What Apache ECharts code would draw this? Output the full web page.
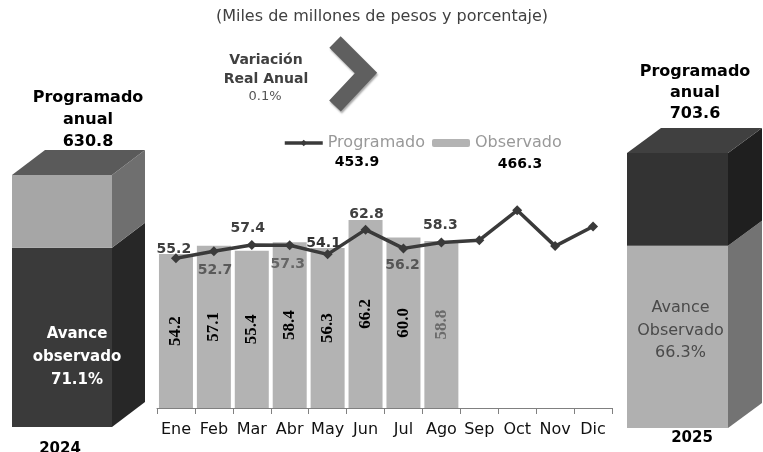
<!DOCTYPE html>
<html>
<head>
<meta charset="utf-8">
<script src="https://cdn.jsdelivr.net/npm/echarts@6/dist/echarts.min.js"></script>
<style>
  html, body { margin: 0; padding: 0; background: #fff; }
  #chart { width: 763px; height: 452px; }
</style>
</head>
<body>
<div id="chart"></div>
<script>
// datos mensuales (miles de millones de pesos)
const meses = ["Ene", "Feb", "Mar", "Abr", "May", "Jun", "Jul", "Ago", "Sep", "Oct", "Nov", "Dic"];
const programado = [52.7, 55.2, 57.4, 57.3, 54.1, 62.8, 56.2, 58.3, 59.1, 69.6, 57.0, 63.9];
const observado = [54.2, 57.1, 55.4, 58.4, 56.3, 66.2, 60.0, 58.8];
const acumProgramado = 453.9;
const acumObservado = 466.3;

// cajas anuales
const anual2024 = 630.8;
const avance2024 = 71.1;
const anual2025 = 703.6;
const avance2025 = 66.3;
const variacionReal = 0.1;

const FONT = "DejaVu Sans";

// offsets / colores de las etiquetas de la linea (solo los meses con dato)
const lineLabelLayout = [
  { offset: [39, 12], color: "#5a5a5a" },
  { offset: [-40, -2], color: "#404040" },
  { offset: [-4, -17], color: "#404040" },
  { offset: [-2, 19], color: "#666666" },
  { offset: [-4, -11], color: "#333333" },
  { offset: [1, -15], color: "#404040" },
  { offset: [-1, 17], color: "#555555" },
  { offset: [-1, -17], color: "#404040" },
];

function boxRenderer(opts) {
  return function (params, api) {
    const x = api.value(0);
    const p0 = api.coord([x, api.value(1)]);
    const p1 = api.coord([x, api.value(2)]);
    const w = api.size([1, 0])[0];
    const left = p0[0] - w / 2;
    const right = p0[0] + w / 2;
    const seg = opts.segments[params.dataIndex];
    const dx = opts.dx, dy = opts.dy;
    const children = [
      {
        type: "rect",
        shape: { x: left, y: p1[1], width: w, height: p0[1] - p1[1] },
        style: { fill: seg.front },
      },
      {
        type: "polygon",
        shape: {
          points: [
            [right, p0[1]],
            [right, p1[1]],
            [right + dx, p1[1] + dy],
            [right + dx, p0[1] + dy],
          ],
        },
        style: { fill: seg.side },
      },
    ];
    if (params.dataIndex === opts.segments.length - 1) {
      children.push({
        type: "polygon",
        shape: {
          points: [
            [left, p1[1]],
            [right, p1[1]],
            [right + dx, p1[1] + dy],
            [left + dx, p1[1] + dy],
          ],
        },
        style: { fill: opts.topColor },
      });
    }
    if (params.dataIndex === 0) {
      children.push({
        type: "text",
        x: p0[0] + opts.textDx,
        y: (p0[1] + p1[1]) / 2 + opts.textDy,
        style: {
          text: opts.text,
          fill: opts.textColor,
          font: opts.textFont,
          align: "center",
          verticalAlign: "middle",
          lineHeight: opts.lineHeight,
        },
      });
    }
    return { type: "group", children: children };
  };
}

const chart = echarts.init(document.getElementById("chart"));

const option = {
  animation: false,
  textStyle: { fontFamily: FONT },
  legend: {
    left: 278,
    top: 130,
    itemWidth: 38,
    itemHeight: 8,
    itemGap: 7,
    selectedMode: false,
    lineStyle: { width: 3.5 },
    data: ["Programado", "Observado"],
    textStyle: { fontSize: 16, color: "#999999", fontFamily: FONT },
  },
  grid: [
    { left: 157, width: 455, top: 124, height: 284 },
    { left: 12, width: 100, top: 175, height: 252 },
    { left: 627, width: 101, top: 153, height: 275 },
  ],
  xAxis: [
    {
      type: "category",
      gridIndex: 0,
      data: meses,
      axisLine: { lineStyle: { color: "#808080", width: 1 } },
      axisTick: { show: true, length: 6, lineStyle: { color: "#808080" } },
      axisLabel: { interval: 0, margin: 14, fontSize: 16, color: "#111", fontFamily: FONT },
    },
    { type: "category", gridIndex: 1, data: ["2024"], show: false },
    { type: "category", gridIndex: 2, data: ["2025"], show: false },
  ],
  yAxis: [
    { type: "value", gridIndex: 0, min: 0, max: 100, show: false, splitLine: { show: false } },
    { type: "value", gridIndex: 1, min: 0, max: 100, show: false, splitLine: { show: false } },
    { type: "value", gridIndex: 2, min: 0, max: 100, show: false, splitLine: { show: false } },
  ],
  series: [
    {
      name: "Observado",
      type: "bar",
      xAxisIndex: 0,
      yAxisIndex: 0,
      barWidth: 34,
      itemStyle: { color: "#b3b3b3" },
      data: observado.map((v, i) => ({
        value: v,
        label: { color: i === observado.length - 1 ? "#6b6b6b" : "#000" },
      })),
      label: {
        show: true,
        position: "inside",
        rotate: 90,
        fontFamily: "Liberation Serif",
        fontWeight: "bold",
        fontSize: 17,
        formatter: (p) => p.value.toFixed(1),
      },
    },
    {
      name: "Programado",
      type: "line",
      xAxisIndex: 0,
      yAxisIndex: 0,
      symbol: "diamond",
      symbolSize: 10,
      lineStyle: { color: "#3a3a3a", width: 3.5 },
      itemStyle: { color: "#3a3a3a" },
      z: 5,
      data: programado.map((v, i) => {
        const lay = lineLabelLayout[i];
        if (!lay) return v;
        return {
          value: v,
          label: {
            show: true,
            position: "inside",
            offset: lay.offset,
            color: lay.color,
            fontFamily: FONT,
            fontWeight: "bold",
            fontSize: 14,
            formatter: (p) => p.value.toFixed(1),
          },
        };
      }),
    },
    {
      type: "custom",
      xAxisIndex: 1,
      yAxisIndex: 1,
      renderItem: boxRenderer({
        dx: 33,
        dy: -25,
        topColor: "#5a5a5a",
        segments: [
          { front: "#3a3a3a", side: "#272727" },
          { front: "#a6a6a6", side: "#6f6f6f" },
        ],
        text: "Avance\nobservado\n" + avance2024.toFixed(1) + "%",
        textColor: "#ffffff",
        textFont: "bold 15px " + FONT,
        lineHeight: 23,
        textDx: 15,
        textDy: 20,
      }),
      data: [
        [0, 0, avance2024],
        [0, avance2024, 100],
      ],
    },
    {
      type: "custom",
      xAxisIndex: 2,
      yAxisIndex: 2,
      renderItem: boxRenderer({
        dx: 34,
        dy: -25,
        topColor: "#404040",
        segments: [
          { front: "#b0b0b0", side: "#737373" },
          { front: "#333333", side: "#1f1f1f" },
        ],
        text: "Avance\nObservado\n" + avance2025.toFixed(1) + "%",
        textColor: "#4a4a4a",
        textFont: "16px " + FONT,
        lineHeight: 22.5,
        textDx: 3,
        textDy: -6,
      }),
      data: [
        [0, 0, avance2025],
        [0, avance2025, 100],
      ],
    },
  ],
  graphic: [
    {
      type: "text",
      x: 382,
      y: 17,
      style: {
        text: "(Miles de millones de pesos y porcentaje)",
        fill: "#404040",
        font: "16px " + FONT,
        align: "center",
        verticalAlign: "middle",
      },
    },
    {
      type: "polyline",
      shape: { points: [[335, 42], [366, 73], [335, 106]] },
      style: {
        stroke: "#5f5f5f",
        lineWidth: 16,
        lineJoin: "miter",
        fill: null,
        shadowBlur: 2,
        shadowColor: "rgba(0,0,0,0.35)",
        shadowOffsetX: 1,
        shadowOffsetY: 2,
      },
    },
    {
      type: "text",
      x: 266,
      y: 70,
      style: {
        text: "Variación\nReal Anual",
        fill: "#404040",
        font: "bold 14px " + FONT,
        align: "center",
        verticalAlign: "middle",
        lineHeight: 19,
      },
    },
    {
      type: "text",
      x: 265,
      y: 97,
      style: {
        text: variacionReal.toFixed(1) + "%",
        fill: "#555",
        font: "13px " + FONT,
        align: "center",
        verticalAlign: "middle",
      },
    },
    {
      type: "text",
      x: 357,
      y: 162,
      style: {
        text: acumProgramado.toFixed(1),
        fill: "#000",
        font: "bold 14px " + FONT,
        align: "center",
        verticalAlign: "middle",
      },
    },
    {
      type: "text",
      x: 520,
      y: 164,
      style: {
        text: acumObservado.toFixed(1),
        fill: "#000",
        font: "bold 14px " + FONT,
        align: "center",
        verticalAlign: "middle",
      },
    },
    {
      type: "text",
      x: 88,
      y: 120,
      style: {
        text: "Programado\nanual\n" + anual2024.toFixed(1),
        fill: "#000",
        font: "bold 16px " + FONT,
        align: "center",
        verticalAlign: "middle",
        lineHeight: 22,
      },
    },
    {
      type: "text",
      x: 695,
      y: 93,
      style: {
        text: "Programado\nanual\n" + anual2025.toFixed(1),
        fill: "#000",
        font: "bold 16px " + FONT,
        align: "center",
        verticalAlign: "middle",
        lineHeight: 21,
      },
    },
    {
      type: "text",
      x: 60,
      y: 449,
      style: {
        text: "2024",
        fill: "#000",
        font: "bold 15px " + FONT,
        align: "center",
        verticalAlign: "middle",
      },
    },
    {
      type: "text",
      x: 692,
      y: 438,
      style: {
        text: "2025",
        fill: "#000",
        font: "bold 15px " + FONT,
        align: "center",
        verticalAlign: "middle",
      },
    },
  ],
};

chart.setOption(option);
</script>
</body>
</html>
